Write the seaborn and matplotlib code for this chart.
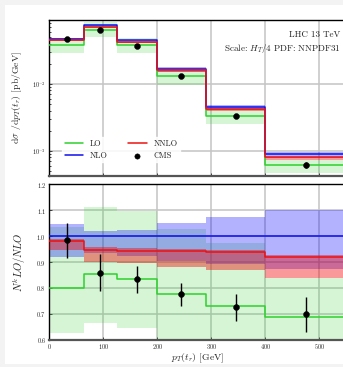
import numpy as np
import pandas as pd
import matplotlib
matplotlib.use("Agg")
import matplotlib.pyplot as plt
from matplotlib.patches import Rectangle
import seaborn as sns

# bin edges of the top-quark pT distribution [GeV]
edges = [0, 65, 125, 200, 290, 400, 550]
centers = [32.5, 95, 162.5, 245, 345, 475]

# NLO central prediction, dsigma/dpT [pb/GeV]
nlo = [0.0470, 0.0752, 0.0449, 0.0169, 0.00454, 0.000886]

# ratios to NLO: central values and scale-variation envelopes
nlo_lo = [0.920, 0.933, 0.924, 0.905, 0.891, 0.873]
nlo_hi = [1.046, 1.020, 1.023, 1.049, 1.072, 1.100]

lo_r = [0.800, 0.854, 0.836, 0.775, 0.729, 0.688]
lo_lo = [0.626, 0.664, 0.645, 0.580, 0.550, 0.520]
lo_hi = [1.035, 1.113, 1.098, 1.027, 0.975, 0.838]

nnlo_r = [0.980, 0.948, 0.943, 0.942, 0.937, 0.919]
nnlo_lo = [0.945, 0.900, 0.897, 0.879, 0.871, 0.838]
nnlo_hi = [0.990, 0.958, 0.954, 0.950, 0.945, 0.928]

# CMS measurement relative to NLO, with total uncertainty
cms_r = [0.985, 0.857, 0.833, 0.775, 0.726, 0.699]
cms_lo = [0.917, 0.788, 0.779, 0.730, 0.673, 0.629]
cms_hi = [1.052, 0.930, 0.885, 0.820, 0.776, 0.764]

sns.set_theme(style="white")
plt.rcParams.update({
    "font.family": ["cmr10", "DejaVu Serif"],
    "mathtext.fontset": "cm",
    "axes.formatter.use_mathtext": True,
    "axes.unicode_minus": False,
})

GREEN = "#2ed12e"
BLUE = "#1010ee"
RED = "#ee1111"

fig = plt.figure(figsize=(3.43, 3.67), dpi=100)
fig.patch.set_facecolor("#f3f3f3")
fig.add_artist(Rectangle((5 / 343, 3 / 367), 1, 1 - 8 / 367,
                         transform=fig.transFigure, facecolor="white",
                         edgecolor="none", zorder=-10))

ax1 = fig.add_axes([49 / 343, 1 - 175.7 / 367, 1.01 - 49 / 343, 155.7 / 367])
ax2 = fig.add_axes([49 / 343, 1 - 339.7 / 367, 1.01 - 49 / 343, 155.4 / 367])

nlo_a = np.array(nlo)


def step_frame(vals, name):
    return pd.DataFrame({"pt": edges, name: list(vals) + [vals[-1]]})


def draw_panel(ax, scale):
    s = np.asarray(scale)
    ax.stairs(np.array(lo_hi) * s, edges, baseline=np.array(lo_lo) * s,
              fill=True, color=GREEN, alpha=0.2, lw=0, zorder=1)
    ax.stairs(np.array(nlo_hi) * s, edges, baseline=np.array(nlo_lo) * s,
              fill=True, color="#0000ff", alpha=0.3, lw=0, zorder=2)
    ax.stairs(np.array(nnlo_hi) * s, edges, baseline=np.array(nnlo_lo) * s,
              fill=True, color="#f00000", alpha=0.4, lw=0, zorder=3)
    series = [("LO", np.array(lo_r) * s, GREEN),
              ("NLO", np.ones(6) * s, BLUE),
              ("NNLO", np.array(nnlo_r) * s, RED)]
    for name, vals, col in series:
        sns.lineplot(data=step_frame(vals, name), x="pt", y=name, ax=ax,
                     drawstyle="steps-post", color=col, lw=1.1,
                     estimator=None, label=name, zorder=5)
    cms_df = pd.DataFrame({"pt": centers, "val": np.array(cms_r) * s})
    ax.errorbar(centers, np.array(cms_r) * s,
                yerr=[(np.array(cms_r) - np.array(cms_lo)) * s,
                      (np.array(cms_hi) - np.array(cms_r)) * s],
                fmt="none", ecolor="black", elinewidth=1.0, zorder=6)
    sns.scatterplot(data=cms_df, x="pt", y="val", ax=ax, color="black",
                    s=18, edgecolor="black", label="CMS", zorder=7)


draw_panel(ax1, nlo_a)
draw_panel(ax2, np.ones(6))

for ax in (ax1, ax2):
    ax.set_xlim(0, 550)
    ax.set_xticks([0, 100, 200, 300, 400, 500])
    ax.grid(True, color="#c4c4c4", lw=1.1, zorder=0)
    ax.tick_params(labelsize=4.5, direction="in", length=2, width=0.6,
                   which="both", left=True, bottom=True, pad=2)
    ax.tick_params(which="minor", length=1.2)
    for side in ("top", "left"):
        ax.spines[side].set_color("black")
        ax.spines[side].set_linewidth(1.0)
    ax.spines["bottom"].set_color("#555555")
    ax.spines["bottom"].set_linewidth(1.6)
    ax.spines["right"].set_visible(False)

ax1.set_yscale("log")
ax1.set_ylim(4.27e-4, 0.0901)
ax1.set_yticks([1e-3, 1e-2])
ax1.tick_params(labelbottom=False)
ax1.set_xlabel("")
ax1.set_ylabel(r"d$\sigma$ /d$p_T(t_r)$ [pb/GeV]", fontsize=7, labelpad=6)

ax2.set_ylim(0.6, 1.2)
ax2.set_yticks([0.6, 0.7, 0.8, 0.9, 1.0, 1.1, 1.2])
ax2.set_xlabel(r"$p_T(t_r)$ [GeV]", fontsize=7, labelpad=0)
ax2.set_ylabel(r"$N^kLO/NLO$", fontsize=7.5, labelpad=6)
leg2 = ax2.get_legend()
if leg2 is not None:
    leg2.remove()

ax1.text(0.98, 0.905, "LHC 13 TeV", transform=ax1.transAxes,
         ha="right", va="center", fontsize=6.5)
ax1.text(0.98, 0.815, r"Scale: $H_T/4$ PDF: NNPDF31", transform=ax1.transAxes,
         ha="right", va="center", fontsize=6.5)

handles, labels = ax1.get_legend_handles_labels()
order = ["LO", "NLO", "NNLO", "CMS"]
hmap = dict(zip(labels, handles))
ax1.legend([hmap[k] for k in order], order, ncol=2, loc="lower left",
           bbox_to_anchor=(0.03, 0.06), fontsize=6, frameon=True,
           facecolor="white", edgecolor="white", framealpha=0.85,
           handlelength=2.2, columnspacing=2.5, labelspacing=0.4,
           borderpad=0.3, markerscale=0.9)

fig.savefig("out.png", dpi=100, facecolor=fig.get_facecolor())
